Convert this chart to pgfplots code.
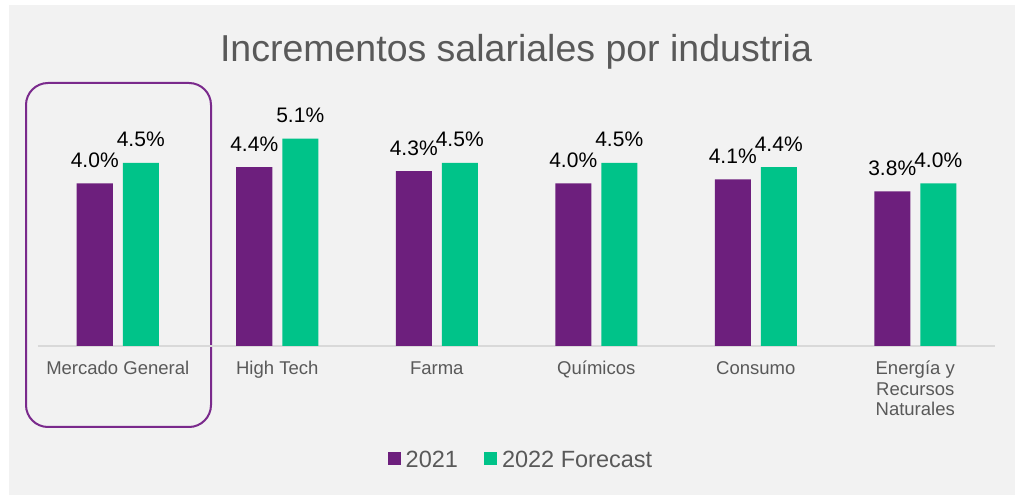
\documentclass[border=0pt]{standalone}
\usepackage{fontspec}
\setmainfont{Liberation Sans}
\usepackage{pgfplots}
\pgfplotsset{compat=1.18}
\definecolor{cpurple}{HTML}{6D1F7D}
\definecolor{cgreen}{HTML}{00C389}
\definecolor{panel}{HTML}{F2F2F2}
\definecolor{txtgray}{HTML}{595959}
\definecolor{axgray}{HTML}{D9D9D9}
\definecolor{boxpurple}{HTML}{7A2A8C}
\begin{document}
\begin{tikzpicture}[x=1pt,y=1pt]
\useasboundingbox (0,0) rectangle (1015,495);
\fill[white] (0,0) rectangle (1015,495);
\fill[panel] (9,0) rectangle (1015,490);
\node[anchor=base, text=txtgray, font=\fontsize{37.5}{44}\selectfont, inner sep=0pt] at (516,433.5) {Incrementos salariales por industria};
\draw[boxpurple, line width=2pt, rounded corners=22pt] (26,68) rectangle (211,412);
\begin{axis}[
  at={(38pt,149pt)}, anchor=south west,
  scale only axis, width=957pt, height=244pt,
  xmin=-0.5, xmax=5.5, ymin=0, ymax=6,
  axis x line*=bottom, axis y line=none,
  x axis line style={axgray, line width=1.5pt, -},
  xtick={0,1,2,3,4,5},
  xticklabels={Mercado General, High Tech, Farma, Químicos, Consumo, {\begin{tabular}[t]{@{}c@{}}Energía y\\Recursos\\Naturales\end{tabular}}},
  major tick length=0pt,
  xticklabel style={font=\fontsize{18.5}{20.5}\selectfont, text=txtgray, anchor=base, yshift=-29pt, inner sep=0pt},
  ytick=\empty,
  ybar, bar width=36pt,
  /pgf/number format/assume math mode=true,
  nodes near coords={\pgfmathprintnumber[fixed,fixed zerofill,precision=1]{\pgfplotspointmeta}\%},
  every node near coord/.append style={font=\fontsize{21}{25}\selectfont, text=black, anchor=base, yshift=16pt, inner sep=0pt},
  legend style={at={(0.5047,-0.467)}, anchor=center, draw=none, fill=none, legend columns=-1,
    font=\fontsize{23.5}{27}\selectfont, text=txtgray,
    /tikz/every even column/.append style={column sep=24pt}},
  legend image code/.code={\fill[#1] (0pt,-5.5pt) rectangle (13pt,7.5pt); \path (16pt,0pt);},
  clip=false,
]
\addplot[fill=cpurple, draw=none, bar shift=-23pt] coordinates {(0,4.0) (1,4.4) (2,4.3) (3,4.0) (4,4.1) (5,3.8)};
\addplot[fill=cgreen, draw=none, bar shift=23pt] coordinates {(0,4.5) (1,5.1) (2,4.5) (3,4.5) (4,4.4) (5,4.0)};
\legend{2021, 2022 Forecast}
\end{axis}
\end{tikzpicture}
\end{document}
